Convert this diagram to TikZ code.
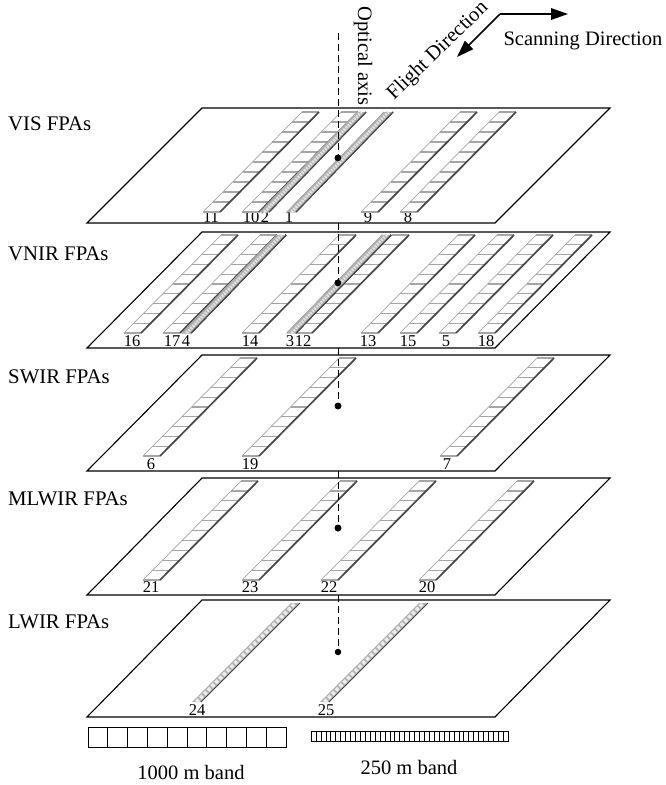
\documentclass[tikz,border=0pt]{standalone}
\usepackage{fontspec}
\setmainfont{Liberation Serif}
\usetikzlibrary{arrows.meta}
\definecolor{shadegray}{gray}{0.28}
\tikzset{
  plane/.style={draw=black,line width=1.1pt,fill=white},
  axisline/.style={draw=black,line width=0.8pt,dash pattern=on 7pt off 4pt},
  axisdot/.style={circle,fill=black,inner sep=0pt,minimum size=6.5pt},
  num/.style={font=\fontsize{16.5}{16.5}\selectfont,inner sep=0pt,text=black},
  title/.style={font=\fontsize{20.8}{20.8}\selectfont,inner sep=0pt,anchor=west},
  biglabel/.style={font=\fontsize{20.5}{20.5}\selectfont,inner sep=0pt,anchor=center},
  dirarrow/.style={line width=1.6pt,-{Triangle[length=17pt,width=11.5pt]}},
}
\newcommand{\widestrip}[3]{%
  \pgfmathsetmacro{\dxx}{(#2-#3)*0.99}
  \fill[white] (#1,#2) -- ++(17,0) -- ++(\dxx,#3-#2) -- ++(-17,0) -- cycle;
  \foreach \k in {0,...,10}{%
    \pgfmathsetmacro{\ta}{\k/10}
    \draw[gray!70,line width=1.2pt]
      ({#1+\ta*\dxx},{#2+\ta*(#3-#2)}) -- ({#1+17+\ta*\dxx},{#2+\ta*(#3-#2)});
  }
  \draw[gray!70,line width=.7pt] (#1,#2) -- ({#1+\dxx},#3);
  \draw[shadegray,line width=1.7pt] ({#1+17},#2) -- ({#1+17+\dxx},#3);
}
\newcommand{\narrowstrip}[3]{%
  \pgfmathsetmacro{\dxx}{(#2-#3)*0.97}
  \fill[gray!60] (#1,#2) -- ++(9,0) -- ++(\dxx,#3-#2) -- ++(-9,0) -- cycle;
  \draw[gray!22,line width=3pt,dash pattern=on 1.8pt off 1.2pt] ({#1+4.5},#2) -- ({#1+4.5+\dxx},#3);
  \draw[shadegray,line width=1pt] ({#1+9},#2) -- ({#1+9+\dxx},#3);
  \draw[gray!70,line width=.5pt] (#1,#2) -- ({#1+\dxx},#3);
}
\newcommand{\lwstrip}[3]{%
  \pgfmathsetmacro{\dxx}{(#2-#3)*1.0}
  \fill[gray!60] (#1,#2) -- ++(9,0) -- ++(\dxx,#3-#2) -- ++(-9,0) -- cycle;
  \draw[gray!15,line width=3.8pt,dash pattern=on 3.4pt off 2pt] ({#1+4.5},#2) -- ({#1+4.5+\dxx},#3);
  \draw[shadegray,line width=.8pt] ({#1+9},#2) -- ({#1+9+\dxx},#3);
}
\newcommand{\fpaplane}[2]{% y top, y bottom
  \path[plane] (87,#2) -- (202,#1) -- (610,#1) -- (495,#2) -- cycle;
}
\begin{document}
\begin{tikzpicture}[x=1pt,y=-1pt]
\useasboundingbox (0,0) rectangle (665,785);
\fill[white] (0,0) rectangle (665,785);
\coordinate (axtop) at (338,33);
% VIS
\fpaplane{108}{223}
\foreach \t/\x in {11/211,10/251,2/265,1/289,9/368,8/408}
  \node[num] (v\t) at (\x,217) {\t};
\foreach \x in {203,242,361,400} \widestrip{\x}{212}{112}
\narrowstrip{260}{212}{112}\narrowstrip{287}{212}{112}
\node[axisdot] (d1) at (338,158) {};
\draw[axisline] (axtop) -- (d1);
% VNIR
\coordinate (c2a) at (338,223);
\fpaplane{232}{348}
\foreach \t/\x in {16/132,17/172,4/186,14/250,3/290,12/303,13/368,15/408,5/446,18/486}
  \node[num] (n\t) at (\x,341) {\t};
\foreach \x in {124,163,242,295,361,400,439,478} \widestrip{\x}{333}{235}
\narrowstrip{182}{333}{235}\narrowstrip{287}{333}{235}
\node[axisdot] (d2) at (338,283) {};
\draw[axisline] (c2a) -- (d2);
% SWIR
\coordinate (c3a) at (338,348);
\fpaplane{355}{471}
\foreach \t/\x in {6/151,19/250,7/447}
  \node[num] (s\t) at (\x,464) {\t};
\foreach \x in {143,242,440} \widestrip{\x}{456}{358}
\node[axisdot] (d3) at (338,406) {};
\draw[axisline] (c3a) -- (d3);
% MLWIR
\coordinate (c4a) at (338,471);
\fpaplane{478}{595}
\foreach \t/\x in {21/151,23/250,22/329,20/427}
  \node[num] (m\t) at (\x,587) {\t};
\foreach \x in {143,242,321,419} \widestrip{\x}{580}{481}
\node[axisdot] (d4) at (338,528) {};
\draw[axisline] (c4a) -- (d4);
% LWIR
\coordinate (c5a) at (338,595);
\fpaplane{600}{717}
\foreach \t/\x in {24/197,25/326}
  \node[num] (l\t) at (\x,710) {\t};
\lwstrip{192}{702}{603}\lwstrip{320}{702}{603}
\node[axisdot] (d5) at (338,652) {};
\draw[axisline] (c5a) -- (d5);
% titles
\foreach \n/\t/\y in {a/VIS FPAs/124,b/VNIR FPAs/254,c/SWIR FPAs/377,d/MLWIR FPAs/499,e/LWIR FPAs/622}
  \node[title] (t\n) at (8,\y) {\t};
% legend
\foreach \k in {0,...,9}
  \draw[black,line width=.9pt] ({88+\k*19.8},727) rectangle ({88+(\k+1)*19.8},747);
\draw[black,line width=.7pt] (311,731) rectangle (508,741);
\foreach \k in {1,...,39}
  \draw[black,line width=.5pt] ({311+\k*197/40},731) -- ({311+\k*197/40},741);
\node[biglabel] (l1) at (191,772) {1000 m band};
\node[biglabel] (l2) at (409,767) {250 m band};
% direction labels
\node[biglabel,rotate=-90] (oa) at (363,56) {Optical axis};
\node[biglabel,rotate=44] (fd) at (438,51) {Flight Direction};
\node[biglabel] (sd) at (583,41) {Scanning Direction};
\coordinate (corner) at (500,14);
\coordinate (ae) at (568,14);
\coordinate (be) at (457,57);
\draw[dirarrow] (corner) -- (ae);
\draw[dirarrow] (corner) -- (be);
\end{tikzpicture}
\end{document}
